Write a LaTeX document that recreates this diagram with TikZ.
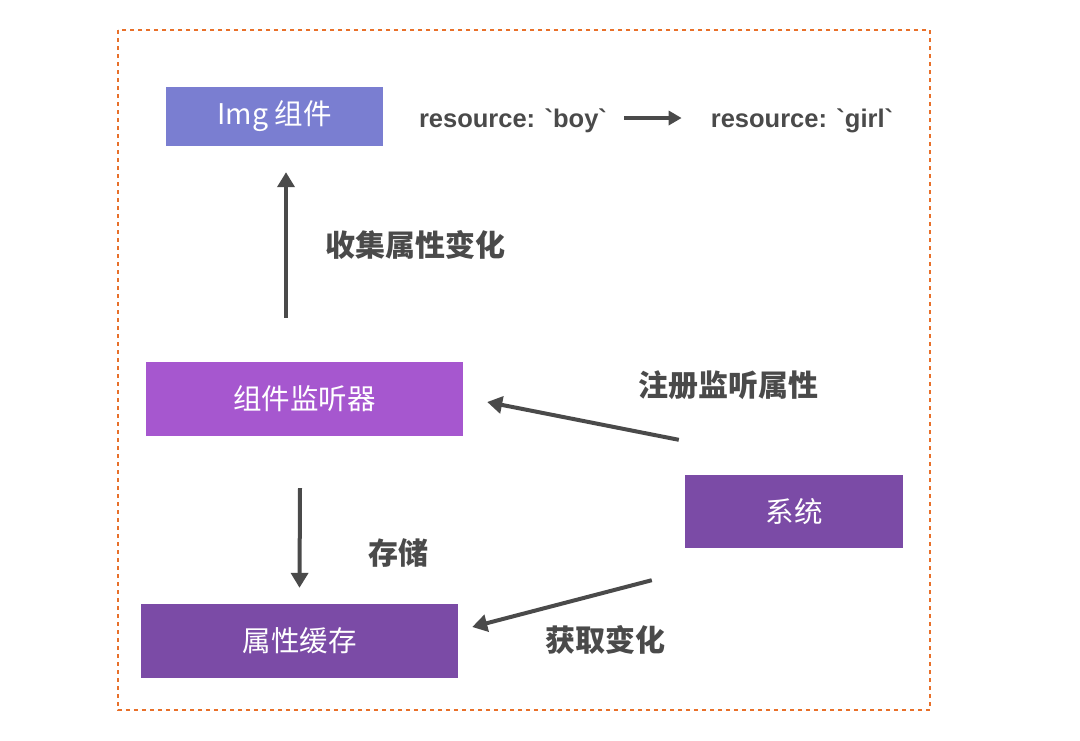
\documentclass[tikz,border=0pt]{standalone}
\usepackage{fontspec}
\setmainfont{Noto Sans CJK SC}
\newfontfamily\latinfont[Ligatures=TeXOff]{Liberation Sans}
\usetikzlibrary{arrows.meta}
\definecolor{frameorange}{HTML}{E8702A}
\definecolor{txtgray}{HTML}{4A4A4A}
\definecolor{imgblue}{HTML}{7A7ED1}
\definecolor{listenpurple}{HTML}{A657CF}
\definecolor{darkpurple}{HTML}{7B4BA6}
\tikzset{
  box/.style={draw=none, inner sep=0pt, text=white, font=\fontsize{28.5}{32}\selectfont},
  lab/.style={inner sep=0pt, text=txtgray, font=\fontsize{30}{34}\selectfont\bfseries},
  res/.style={inner sep=0pt, text=txtgray, font=\latinfont\fontsize{25.5}{30}\selectfont\bfseries},
  arr/.style={draw=txtgray, line width=4pt, -{Triangle[length=15pt,width=17pt]}},
}
\begin{document}
\begin{tikzpicture}[x=1pt,y=-1pt]
\useasboundingbox[fill=white] (0,0) rectangle (1080,740);
\draw[frameorange, line width=1.8pt, dash pattern=on 4pt off 4pt] (118,30) rectangle (930,710);
\node[box, fill=imgblue, minimum width=217pt, minimum height=59pt] (img) at (274.5,116.5) {Img 组件};
\node[box, fill=listenpurple, minimum width=317pt, minimum height=74pt] (listen) at (304.5,399) {组件监听器};
\node[box, fill=darkpurple, minimum width=218pt, minimum height=73pt] (sys) at (794,511.5) {系统};
\node[box, fill=darkpurple, minimum width=317pt, minimum height=74pt] (cache) at (299.5,641) {属性缓存};
\node[res] (boy) at (513,121) {resource: \symbol{96}boy\symbol{96}};
\node[res] (girl) at (802,121) {resource: \symbol{96}girl\symbol{96}};
\node[lab] (collect) at (415,245) {收集属性变化};
\node[lab] (register) at (728,385) {注册监听属性};
\node[lab] (store) at (398,553) {存储};
\node[lab] (fetch) at (605,640) {获取变化};
\draw[arr] ([xshift=-18.5pt,yshift=44pt]listen.north) -- ([xshift=11.5pt,yshift=-26pt]img.south);
\draw[arr] ([xshift=-4.5pt,yshift=-52pt]listen.south) -- ([yshift=16pt]cache.north);
\draw[arr] ([xshift=-6pt,yshift=35pt]sys.north west) -- ([xshift=24pt,yshift=-3pt]listen.east);
\draw[arr] ([xshift=-33pt,yshift=-32pt]sys.south west) -- ([xshift=14pt,yshift=14pt]cache.east);
\draw[arr, line width=3.5pt, -{Triangle[length=13pt,width=14pt]}] ([xshift=17pt,yshift=3pt]boy.east) -- ([xshift=-29pt,yshift=3pt]girl.west);
\end{tikzpicture}
\end{document}
